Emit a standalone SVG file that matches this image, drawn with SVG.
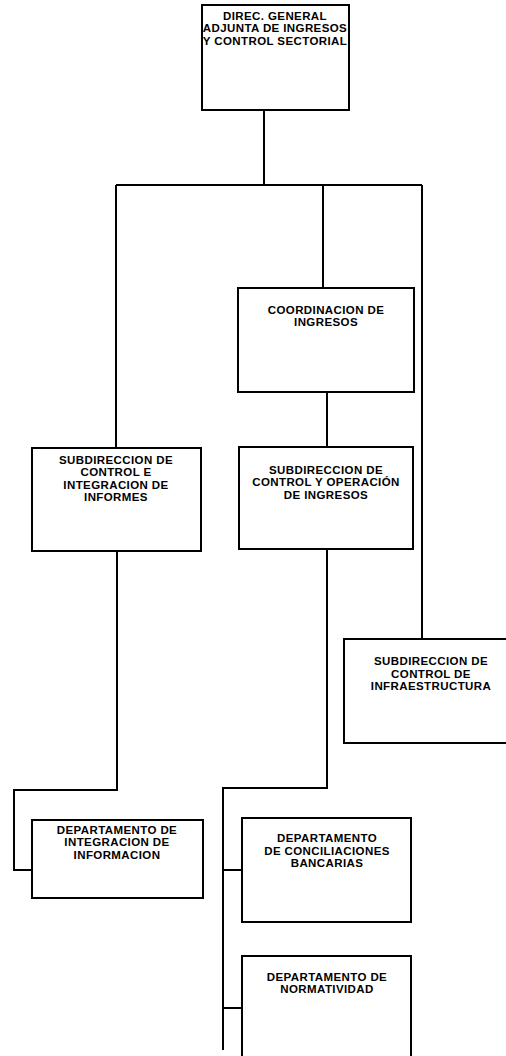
<svg xmlns="http://www.w3.org/2000/svg" width="506" height="1056" viewBox="0 0 506 1056">
<style>
.box{fill:#fff;stroke:#000;stroke-width:2}
.ln{fill:none;stroke:#000;stroke-width:2}
text{font-family:"Liberation Sans",Arial,sans-serif;font-weight:bold;font-size:11.5px;letter-spacing:0.4px;fill:#000;text-anchor:middle}
</style>
<rect width="506" height="1056" fill="#fff"/>
<g id="connectors">
<path class="ln" d="M264,110 V185 M116,185 H422 M116,185 V448 M323,185 V288 M422,185 V639"/>
<path class="ln" d="M327,392 V447"/>
<path class="ln" d="M117,551 V790 H14 V870 H32"/>
<path class="ln" d="M327,549 V788 H223 V1050 M223,870 H242 M223,1008 H242"/>
</g>
<g id="n1"><rect class="box" x="202" y="5" width="147" height="105"/>
<text x="275" y="20">DIREC. GENERAL</text><text x="275" y="32">ADJUNTA DE INGRESOS</text><text x="275" y="45">Y CONTROL SECTORIAL</text></g>
<g id="n2"><rect class="box" x="238" y="288" width="176" height="104"/>
<text x="326" y="314">COORDINACION DE</text><text x="326" y="326">INGRESOS</text></g>
<g id="n3"><rect class="box" x="32" y="448" width="169" height="103"/>
<text x="116" y="464">SUBDIRECCION DE</text><text x="116" y="476">CONTROL E</text><text x="116" y="489">INTEGRACION DE</text><text x="116" y="501">INFORMES</text></g>
<g id="n4"><rect class="box" x="239" y="447" width="174" height="102"/>
<text x="326" y="474">SUBDIRECCION DE</text><text x="326" y="486">CONTROL Y OPERACIÓN</text><text x="326" y="499">DE INGRESOS</text></g>
<g id="n5"><rect class="box" x="344" y="639" width="170" height="104"/>
<text x="431" y="665">SUBDIRECCION DE</text><text x="431" y="678">CONTROL DE</text><text x="431" y="690">INFRAESTRUCTURA</text></g>
<g id="n6"><rect class="box" x="32" y="820" width="171" height="78"/>
<text x="117" y="834">DEPARTAMENTO DE</text><text x="117" y="846">INTEGRACION DE</text><text x="117" y="859">INFORMACION</text></g>
<g id="n7"><rect class="box" x="242" y="818" width="169" height="104"/>
<text x="327" y="842">DEPARTAMENTO</text><text x="327" y="855">DE CONCILIACIONES</text><text x="327" y="867">BANCARIAS</text></g>
<g id="n8"><rect class="box" x="242" y="956" width="169" height="110"/>
<text x="327" y="981">DEPARTAMENTO DE</text><text x="327" y="993">NORMATIVIDAD</text></g>
</svg>
